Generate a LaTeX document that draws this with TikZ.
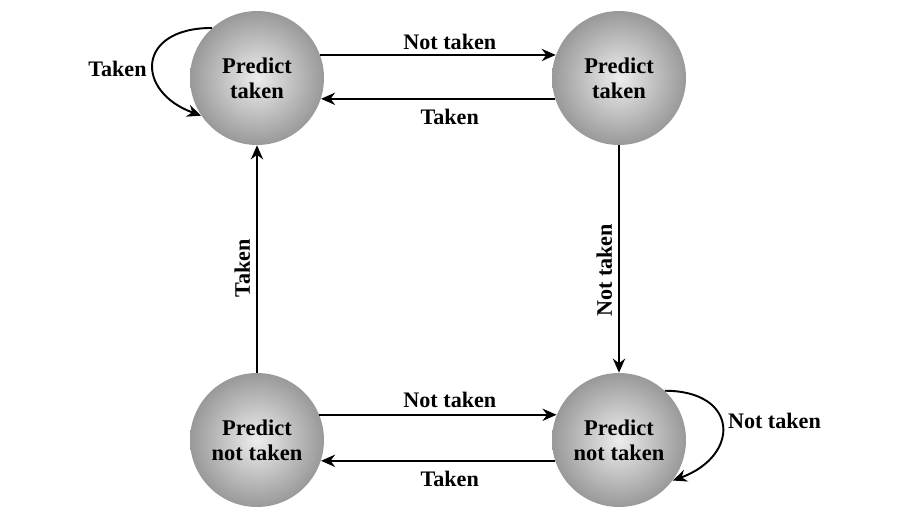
\documentclass[tikz,border=0pt]{standalone}
\usepackage{fontspec}
\setmainfont{Liberation Serif}
\usetikzlibrary{arrows.meta}
\definecolor{balllight}{gray}{0.93}
\definecolor{balldark}{gray}{0.6}

\begin{document}
\begin{tikzpicture}[x=0.02cm,y=0.02cm,
        state/.style={circle,minimum size=2.68cm,inner sep=0pt,align=center,shading=radial,inner color=balllight,outer color=balldark,font=\bfseries\fontsize{12.8}{14.2}\selectfont},
        trans/.style={-{Stealth[length=8pt,width=7pt]},line width=1.1pt},
        lbl/.style={font=\bfseries\fontsize{12.6}{14.2}\selectfont}]
        \useasboundingbox (0,0) rectangle (915,528);
        % the four predictor states
        \node[state] (ptl) at (257,450) {Predict\\taken};
        \node[state] (ptr) at (619,450) {Predict\\taken};
        \node[state] (pnl) at (257,88) {Predict\\not taken};
        \node[state] (pnr) at (619,88) {Predict\\not taken};
        % top pair
        \draw[trans] (ptl.20) -- node[pos=0.55,above=-1pt,lbl] {Not taken} (ptr.160);
        \draw[trans] (ptr.-162) -- node[pos=0.45,below=2pt,lbl] {Taken} (ptl.-18);
        % bottom pair
        \draw[trans] (pnl.22) -- node[pos=0.55,above,lbl] {Not taken} (pnr.158);
        \draw[trans] (pnr.-162) -- node[pos=0.45,below=2pt,lbl] {Taken} (pnl.-18);
        % sides
        \draw[trans] (pnl.north) -- node[pos=0.46,rotate=90,anchor=south,lbl] {Taken} (ptl.south);
        \draw[trans] (ptr.south) -- node[pos=0.55,rotate=90,anchor=south,lbl] {Not taken} (pnr.north);
        % self loops
        \draw[trans] (ptl.132) .. controls +(-76,0) and +(-66,24) .. node[pos=0.55,left,lbl] {Taken} (ptl.214);
        \draw[trans] (pnr.47) .. controls +(74,0) and +(68,25) .. node[pos=0.45,right,lbl] {Not taken} (pnr.-37);
\end{tikzpicture}
\end{document}
